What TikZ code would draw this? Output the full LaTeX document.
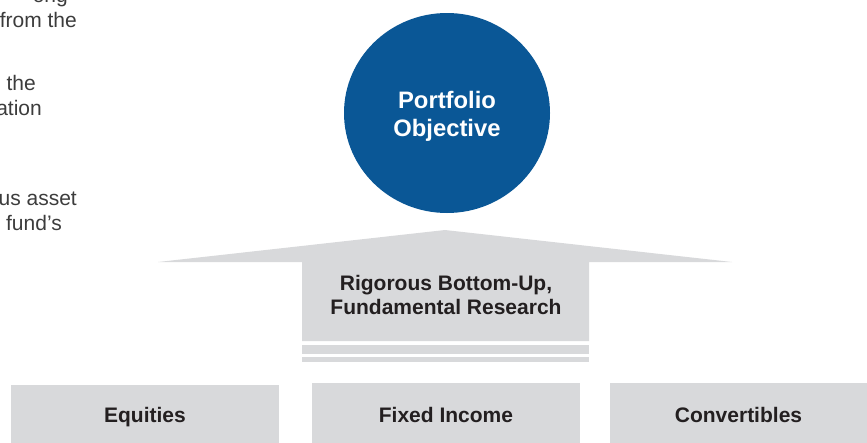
\documentclass[tikz,border=0pt]{standalone}
\usepackage{fontspec}
\setmainfont{Liberation Sans}
\usetikzlibrary{shapes.geometric}

\definecolor{objblue}{RGB}{10,87,150}
\definecolor{panelgray}{RGB}{216,217,219}
\definecolor{inkgray}{RGB}{35,31,32}
\definecolor{bodygray}{RGB}{60,60,60}

\tikzset{
  labeltext/.style={font=\bfseries\fontsize{21}{24}\selectfont, text=inkgray, align=center},
  assetbox/.style={rectangle, fill=panelgray, inner sep=0pt, labeltext},
  bodytext/.style={font=\fontsize{21}{25}\selectfont, text=bodygray, inner sep=0pt, anchor=base east},
}

\begin{document}
\begin{tikzpicture}[x=1pt, y=-1pt]
  \useasboundingbox (0,0) rectangle (867,442);

  % body copy running in from the left column
  \node[bodytext] (b1) at (68,2)   {ong};
  \node[bodytext] (b2) at (77,27)  {from the};
  \node[bodytext] (b3) at (36,90)  {the};
  \node[bodytext] (b4) at (42,115) {ation};
  \node[bodytext] (b5) at (77,205) {us asset};
  \node[bodytext] (b6) at (62,230) {fund’s};

  % objective disc and its label
  \node[ellipse, fill=objblue, minimum width=206pt, minimum height=200pt, inner sep=0pt]
        (obj) at (447,113) {};
  \node[text=white, align=center, font=\bfseries\fontsize{23.8}{28}\selectfont]
        (objlabel) at (447,116.5) {Portfolio\\Objective};

  % upward arrow carrying the research label
  \fill[panelgray] (158,262) -- (445,230) -- (732,262) -- (589,262) -- (589,341)
        -- (302,341) -- (302,262) -- cycle;
  \node[labeltext] (research) at (446,294.5) {Rigorous Bottom-Up,\\Fundamental Research};

  % shaft stripes beneath the arrow
  \fill[panelgray] (302,345) rectangle (589,354);
  \fill[panelgray] (302,357) rectangle (589,362);

  % asset class foundations, running off the lower edge
  \node[assetbox, minimum width=268pt, minimum height=64pt] (eq) at (145,417)  {Equities};
  \node[assetbox, minimum width=268pt, minimum height=64pt] (fi) at (446,415)  {Fixed Income};
  \node[assetbox, minimum width=257pt, minimum height=64pt] (cv) at (738.5,415) {Convertibles};
\end{tikzpicture}
\end{document}
